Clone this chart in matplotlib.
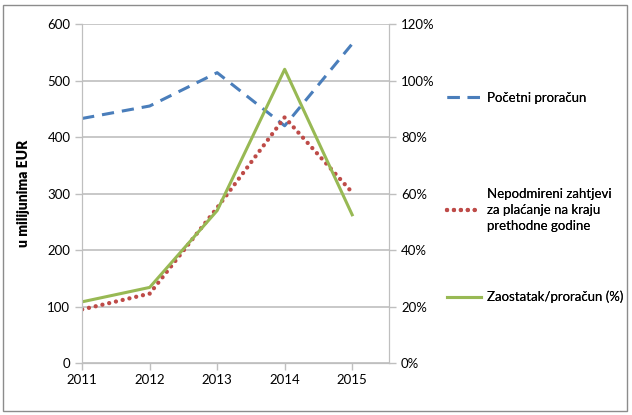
import matplotlib.pyplot as plt
from matplotlib.lines import Line2D
from matplotlib.patches import Rectangle
from matplotlib.ticker import FuncFormatter

plt.rcParams['font.family'] = ['Lato', 'DejaVu Sans']

years = ['2011', '2012', '2013', '2014', '2015']
pocetni = [433, 455, 514, 420, 565]
nepodmireni = [95, 123, 275, 435, 302]
zaostatak = [21.7, 26.8, 54.0, 104.0, 52.5]

blue = '#4A7EBB'
red = '#BE4B48'
green = '#98B954'
grey = '#BFBFBF'

fig = plt.figure(figsize=(6.32, 4.15), dpi=100)
ax = fig.add_axes([0.130, 0.125, 0.486, 0.817])
ax2 = ax.twinx()

x = list(range(len(years)))
red_style = dict(color=red, lw=3.1, dashes=(0.01, 1.6), dash_capstyle='round')
blue_style = dict(color=blue, lw=2.2, dashes=(4, 2.6))

ax.plot(x, pocetni, **blue_style)
ax.plot(x, nepodmireni, **red_style)
ax2.plot(x, zaostatak, color=green, lw=2.2)

ax.set_xlim(0, 4.55)
ax.set_ylim(0, 600)
ax2.set_ylim(0, 120)
ax.set_yticks(range(0, 601, 100))
ax2.set_yticks(range(0, 121, 20))
ax2.yaxis.set_major_formatter(FuncFormatter(lambda v, p: f'{int(v)}%'))
ax.set_xticks(x)
ax.set_xticklabels(years)

ax.grid(axis='y', color=grey, lw=1.2)
ax.set_axisbelow(True)
for a in (ax, ax2):
    for s in a.spines.values():
        s.set_color(grey)
    a.spines['top'].set_visible(False)
    a.tick_params(colors=grey, labelcolor='black', labelsize=9.5, length=5, width=1)
ax.tick_params(axis='x', pad=3)

ax.set_ylabel('u milijunima EUR', fontsize=10, fontweight='heavy')
ax.yaxis.set_label_coords(-0.17, 0.5)

# legend, three separate blocks like the original
entries = [
    (Line2D([], [], **blue_style), 'Početni proračun', 98),
    (Line2D([], [], **red_style),
     'Nepodmireni zahtjevi\nza plaćanje na kraju\nprethodne godine', 210),
    (Line2D([], [], color=green, lw=2.2), 'Zaostatak/proračun (%)', 297),
]
for h, lab, ypix in entries:
    leg = fig.legend([h], [lab], loc='center left',
                     bbox_to_anchor=(447 / 632, 1 - ypix / 415),
                     frameon=False, fontsize=9.5, handlelength=2.6,
                     handletextpad=0.4, borderpad=0, borderaxespad=0)
    for t in leg.get_texts():
        t.set_linespacing(1.35)
    fig.add_artist(leg)

fig.patches.append(Rectangle((3 / 632, 4 / 415), 624 / 632, 406 / 415,
                             transform=fig.transFigure, fill=False,
                             edgecolor='#8C8C8C', lw=1))

fig.savefig('out.png', dpi=100)
